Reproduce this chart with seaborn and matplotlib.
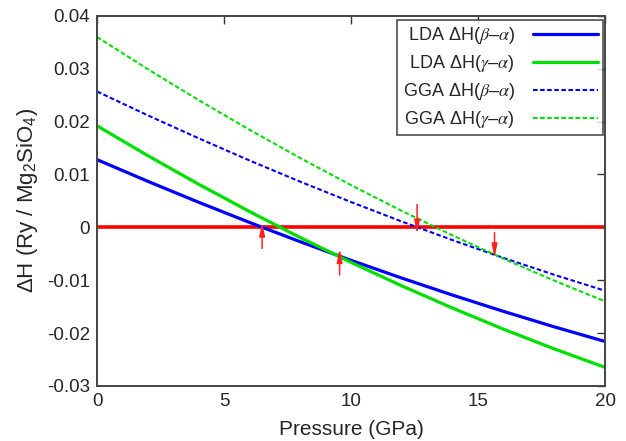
import matplotlib
matplotlib.use("Agg")
import matplotlib.pyplot as plt
import seaborn as sns
import pandas as pd

# ---- data ----
pressure = [0, 2, 4, 6, 8, 10, 12, 14, 16, 18, 20]
lda_beta = [0.0128, 0.00870, 0.00474, 0.00093, -0.00273, -0.00625, -0.00961, -0.01283, -0.01590, -0.01883, -0.0216]
lda_gamma = [0.0192, 0.01356, 0.00815, 0.00299, -0.00194, -0.00663, -0.01108, -0.01529, -0.01927, -0.02300, -0.0265]
gga_beta = [0.0257, 0.02118, 0.01684, 0.01265, 0.00863, 0.00478, 0.00109, -0.00243, -0.00579, -0.00898, -0.0120]
gga_gamma = [0.0360, 0.02991, 0.02407, 0.01846, 0.01310, 0.00798, 0.00310, -0.00154, -0.00593, -0.01009, -0.0140]

labels = [r"LDA ΔH($\beta$–$\alpha$)", r"LDA ΔH($\gamma$–$\alpha$)",
          r"GGA ΔH($\beta$–$\alpha$)", r"GGA ΔH($\gamma$–$\alpha$)"]

# transition arrows: pressure, start value, end value
arrow_p = [6.5, 9.55, 12.6, 15.65]
arrow_from = [-0.0040, -0.0090, 0.0043, -0.0010]
arrow_to = [0.0010, -0.0040, -0.0013, -0.0058]

xticks = [0, 5, 10, 15, 20]
yticks = [-0.03, -0.02, -0.01, 0, 0.01, 0.02, 0.03, 0.04]
yticklabels = ["-0.03", "-0.02", "-0.01", "0", "0.01", "0.02", "0.03", "0.04"]

sns.set_style("white")
plt.rcParams["font.family"] = ["Liberation Sans", "DejaVu Sans"]
plt.rcParams["mathtext.fontset"] = "stix"

fig = plt.figure(figsize=(6.26, 4.41), dpi=100)
ax = fig.add_axes([0.155, 0.125, 0.8115, 0.839])

blue = "#0000ff"
green = "#00e000"
series = [lda_beta, lda_gamma, gga_beta, gga_gamma]
colors = [blue, green, blue, green]
solid = [True, True, False, False]

for vals, lab, col, s in zip(series, labels, colors, solid):
    df = pd.DataFrame({"P": pressure, "H": vals})
    if s:
        sns.lineplot(data=df, x="P", y="H", ax=ax, color=col, lw=2.3, label=lab)
    else:
        sns.lineplot(data=df, x="P", y="H", ax=ax, color=col, lw=1.5,
                     dashes=False, label=lab, linestyle=(0, (2.2, 1.2)))

ax.axhline(0, color="#ff0000", lw=2.6, zorder=1.5)

for p, y0, y1 in zip(arrow_p, arrow_from, arrow_to):
    ax.annotate("", xy=(p, y1), xytext=(p, y0),
                arrowprops=dict(arrowstyle="-|>,head_width=0.16,head_length=0.8",
                                color="#ff2020", lw=1.1, shrinkA=0, shrinkB=0,
                                mutation_scale=10), zorder=5)

ax.set_xlim(0, 20)
ax.set_ylim(-0.03, 0.04)
ax.set_xticks(xticks)
ax.set_xticklabels([str(t) for t in xticks])
ax.set_yticks(yticks)
ax.set_yticklabels(yticklabels)
ax.tick_params(direction="in", length=6, width=1.0, top=True, right=True,
               labelsize=13.5, color="#333333", pad=5)
for sp in ax.spines.values():
    sp.set_color("#444444")
    sp.set_linewidth(1.4)

ax.set_xlabel("Pressure (GPa)", fontsize=15, labelpad=7)
ax.set_ylabel(r"ΔH (Ry / Mg$\mathregular{_2}$SiO$\mathregular{_4}$)", fontsize=16, labelpad=5)

leg = ax.legend(loc="upper right", bbox_to_anchor=(603 / 626, 1 - 20 / 441),
                bbox_transform=fig.transFigure, borderaxespad=0,
                markerfirst=False, frameon=True, fancybox=False,
                fontsize=13, handlelength=3.6, handletextpad=1.0,
                labelspacing=0.38, borderpad=0.3)
leg.get_frame().set_edgecolor("#222222")
leg.get_frame().set_linewidth(1.2)

fig.savefig("out.png", dpi=100)
